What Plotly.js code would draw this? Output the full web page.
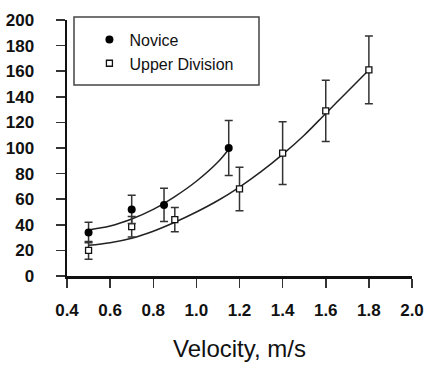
<!DOCTYPE html>
<html>
<head>
<meta charset="utf-8">
<script src="https://cdn.plot.ly/plotly-3.0.1.min.js"></script>
<style>html,body{margin:0;padding:0;background:#fff;}#chart{width:429px;height:366px;}</style>
</head>
<body>
<div id="chart"></div>
<script>
// Measured points (velocity m/s, value) with error bars
const noviceX = [0.5, 0.7, 0.85, 1.15];
const noviceY = [34, 52, 55.5, 100];
const noviceErr = [8, 11, 13, 21.5];

const upperX = [0.5, 0.7, 0.9, 1.2, 1.4, 1.6, 1.8];
const upperY = [20, 38.5, 44, 68, 96, 129, 161];
const upperErr = [7, 8, 9.5, 17, 24.5, 24, 26.5];

// Fitted curves
const noviceFitX = [0.5, 0.6, 0.7, 0.8, 0.9, 1.0, 1.1, 1.15];
const noviceFitY = [36, 39, 44.5, 52, 62, 74, 89, 99];
const upperFitX = [0.5, 0.6, 0.7, 0.8, 0.9, 1.0, 1.1, 1.2, 1.3, 1.4, 1.5, 1.6, 1.7, 1.8];
const upperFitY = [24, 26, 29.5, 35, 42, 50, 59, 69.5, 81.5, 95, 110, 127, 144, 161];

const xTicks = [0.4, 0.6, 0.8, 1.0, 1.2, 1.4, 1.6, 1.8, 2.0];
const xTickText = ['0.4', '0.6', '0.8', '1.0', '1.2', '1.4', '1.6', '1.8', '2.0'];

const traces = [
  {x: noviceFitX, y: noviceFitY, mode: 'lines', line: {color: '#222', width: 1.5, shape: 'spline'}, showlegend: false, hoverinfo: 'skip'},
  {x: upperFitX, y: upperFitY, mode: 'lines', line: {color: '#222', width: 1.5, shape: 'spline'}, showlegend: false, hoverinfo: 'skip'},
  {x: upperX, y: upperY, name: 'Upper Division', mode: 'markers',
   marker: {symbol: 'square', size: 6, color: '#fff', line: {color: '#111', width: 1.3}},
   error_y: {type: 'data', array: upperErr, visible: true, color: '#333', thickness: 1.5, width: 4}},
  {x: noviceX, y: noviceY, name: 'Novice', mode: 'markers',
   marker: {symbol: 'circle', size: 8, color: '#000'},
   error_y: {type: 'data', array: noviceErr, visible: true, color: '#333', thickness: 1.5, width: 4}}
];

const layout = {
  width: 429, height: 366,
  margin: {l: 67, r: 17, t: 20, b: 90},
  paper_bgcolor: '#fff', plot_bgcolor: '#fff',
  font: {family: 'Liberation Sans, Arial, sans-serif', color: '#111'},
  showlegend: true,
  legend: {
    x: 0.065, y: 0.99, xanchor: 'left', yanchor: 'top',
    borderwidth: 0, bgcolor: 'rgba(0,0,0,0)',
    traceorder: 'reversed',
    font: {size: 16, color: '#111'},
    itemwidth: 30
  },
  shapes: [
    {type: 'rect', xref: 'paper', yref: 'paper', x0: 0.0203, x1: 0.5565, y0: 0.746, y1: 1.0117,
     line: {color: '#444', width: 1.5}, fillcolor: 'rgba(0,0,0,0)', layer: 'below'}
  ],
  xaxis: {
    range: [0.4, 2.0], tickvals: xTicks, ticktext: xTickText,
    showgrid: false, zeroline: false,
    showline: true, linecolor: '#111', linewidth: 2.5,
    ticks: 'outside', ticklen: 9, tickwidth: 1.5, tickcolor: '#333',
    ticklabelstandoff: 8,
    tickfont: {size: 17, family: 'Liberation Sans, Arial, sans-serif', weight: 'bold'},
    title: {text: 'Velocity, m/s', font: {size: 24}, standoff: 22}
  },
  yaxis: {
    range: [0, 200], dtick: 20, tick0: 0,
    showgrid: false, zeroline: false,
    showline: true, linecolor: '#111', linewidth: 2.5,
    ticks: 'outside', ticklen: 9, tickwidth: 1.5, tickcolor: '#333',
    ticklabelstandoff: 18,
    tickfont: {size: 17, family: 'Liberation Sans, Arial, sans-serif', weight: 'bold'}
  }
};

Plotly.newPlot('chart', traces, layout, {displayModeBar: false, staticPlot: true});
</script>
</body>
</html>
